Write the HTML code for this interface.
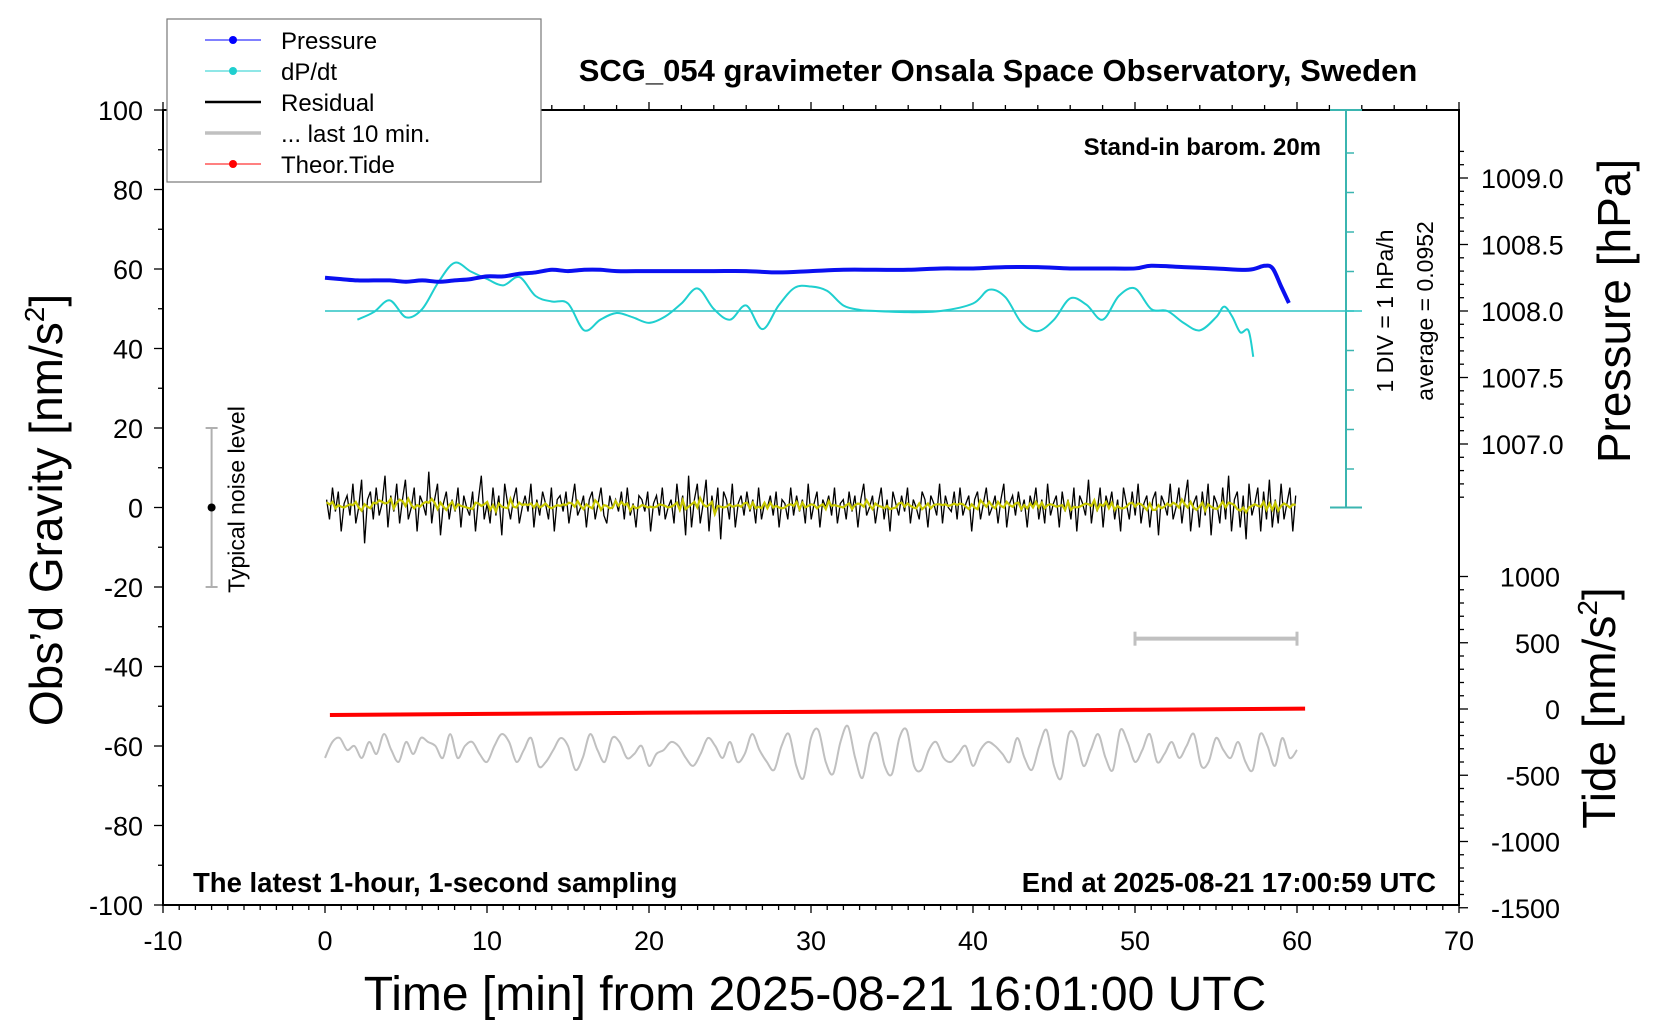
<!DOCTYPE html>
<html><head><meta charset="utf-8"><style>
html,body{margin:0;padding:0;background:#fff}
svg{display:block;font-family:"Liberation Sans",sans-serif}
</style></head><body>
<svg id="c" width="1660" height="1020" viewBox="0 0 1660 1020" xmlns="http://www.w3.org/2000/svg">
<rect width="1660" height="1020" fill="#fff"/>
<g id="axes"></g>
<g id="marks"></g>
</svg>
<script>
// ---- data ----
const xTicks = [-10,0,10,20,30,40,50,60,70];
const gTicks = [100,80,60,40,20,0,-20,-40,-60,-80,-100];
const pTicks = [1009.0,1008.5,1008.0,1007.5,1007.0];
const tideTicks = [1000,500,0,-500,-1000,-1500];
const pressureT = [0,1,2,3,4,5,6,7,8,9,10,11,12,13,14,15,16,17,18,20,22,24,26,28,30,32,34,36,38,40,42,44,46,48,50,51,53,55,57,58,58.5,59,59.5];
const pressureV = [1008.25,1008.24,1008.23,1008.23,1008.23,1008.22,1008.23,1008.22,1008.23,1008.24,1008.26,1008.26,1008.28,1008.29,1008.31,1008.30,1008.31,1008.31,1008.30,1008.30,1008.30,1008.30,1008.30,1008.29,1008.30,1008.31,1008.31,1008.31,1008.32,1008.32,1008.33,1008.33,1008.32,1008.32,1008.32,1008.34,1008.33,1008.32,1008.31,1008.34,1008.32,1008.19,1008.06];
const dpdtT = [2,3,4,5,6,7,8,9,10,11,12,13,14,15,16,17,18,19,20,21,22,23,24,25,26,27,28,29,30,31,32,33,34,36,38,40,41,42,43,44,45,46,47,48,49,50,51,52,53,54,55,55.5,56,56.5,57,57.3];
const dpdtV = [-0.22,-0.03,0.27,-0.16,0.05,0.73,1.22,1.0,0.81,0.65,0.86,0.38,0.24,0.19,-0.49,-0.22,-0.05,-0.16,-0.3,-0.14,0.19,0.57,0.05,-0.22,0.14,-0.46,0.14,0.59,0.62,0.51,0.14,0.03,0,-0.03,0,0.19,0.54,0.35,-0.3,-0.51,-0.22,0.32,0.16,-0.22,0.38,0.57,0.05,0,-0.3,-0.49,-0.16,0.11,-0.14,-0.54,-0.49,-1.16];
const residual = [2,-3,5,-1,4,-6,1,3,-2,6,-4,0,7,-9,2,4,-3,5,-2,1,8,-5,3,-1,6,-4,2,7,-3,0,5,-6,3,1,-2,9,-4,2,6,-7,1,4,-3,2,-1,5,-5,3,0,-2,4,-6,2,8,-3,1,-4,5,-2,3,-7,6,1,-3,2,5,-4,0,3,-1,6,-5,2,-2,4,1,-3,5,-6,2,3,-1,4,-4,1,6,-2,0,3,-5,2,4,-3,1,5,-2,-4,3,0,2,-1,4,-3,5,-2,1,-5,3,2,-1,4,-6,1,3,-2,5,-3,0,2,-4,6,-1,3,-7,8,-5,2,6,-4,1,7,-6,3,-2,5,-8,4,2,-3,6,-5,1,3,-2,4,-1,2,-4,5,-3,1,0,3,-2,4,-5,2,1,-3,5,-2,3,-1,2,-4,6,-3,1,4,-5,2,0,3,-2,5,-4,1,2,-3,4,-1,3,-5,2,6,-2,0,3,-4,1,5,-3,2,-6,4,1,-2,3,-1,5,-4,2,0,-3,4,2,-5,3,1,-2,6,-4,3,0,-1,4,-3,5,-2,1,3,-6,2,4,-3,1,5,-2,0,3,-4,2,6,-5,1,3,-2,4,-1,2,-5,3,0,5,-3,2,-4,6,-2,1,3,-5,4,-1,2,-3,5,-6,3,1,-2,7,-4,2,-1,5,-5,3,0,4,-3,2,-6,5,1,-3,4,-2,6,-4,1,3,-5,2,4,-7,3,1,-2,6,-3,0,5,-4,2,7,-6,1,3,-5,4,-2,6,-7,3,1,-4,5,-3,8,-6,2,4,-5,3,-8,6,-2,1,5,-6,4,-3,7,-5,2,-4,6,-3,1,5,-6,3];
const lastTen = [-1,3,4,1,2,-1,3,0,5,1,-2,3,0,4,3,2,-1,5,-1,2,3,0,-2,2,5,3,-2,1,4,-3,-2,1,4,2,-4,-1,5,1,-2,4,3,-1,0,2,-3,0,1,3,2,-1,-3,0,4,2,-1,3,-2,0,5,1,-2,-4,2,5,-3,-6,4,6,-2,-5,3,7,-1,-6,3,5,-3,-5,4,6,-3,-4,1,3,-1,-2,0,2,-3,1,3,2,0,-2,4,-1,-4,2,6,-3,-6,5,4,-3,1,5,-1,-4,6,3,-2,1,5,-2,0,3,-1,2,5,-3,-2,4,1,-1,3,-2,-4,5,2,-3,4,-1,1];
const lastTenOffset = -62;
const tideT = [0.3,10,20,30,40,50,60.5];
const tideV = [-45,-37,-29,-22,-14,-6,3];
const noiseLevel = [-20,0,20];

// ---- scales ----
const X0=163, XS=16.2;
const tx = t => X0 + (t+10)*XS;
const gy = v => 110 + (100-v)*3.975;
const py = p => 311 - (p-1008)*133;
const yy = v => 709 - v*0.1325;
const DIV = 39.5;
const dy = v => 311 - v*DIV;

const NS="http://www.w3.org/2000/svg";
function mk(parent, tag, attrs, text){
  const el=document.createElementNS(NS,tag);
  for(const k in attrs) el.setAttribute(k,attrs[k]);
  if(text!==undefined) el.textContent=text;
  document.getElementById(parent).appendChild(el);
  return el;
}
const L=tx(-10), R=tx(70), T=gy(100), B=gy(-100);

let e;
e=mk('axes','rect',{x:L,y:T,width:R-L,height:B-T,fill:'none',stroke:'#000','stroke-width':2});



for(let t=-10;t<=70;t++){
  const maj = t%10===0;
  const len = maj?8:5;
  mk('axes','line',{x1:tx(t),x2:tx(t),y1:B,y2:B+len,stroke:'#000','stroke-width':1.3});
  if(t%2===0||maj) mk('axes','line',{x1:tx(t),x2:tx(t),y1:T,y2:T-(maj?8:5),stroke:'#000','stroke-width':1.3});
}
xTicks.forEach(t=>{
  e=mk('axes','text',{x:tx(t),y:950,'font-size':27,'text-anchor':'middle'},String(t));
  
  
});
for(let v=-100;v<=100;v+=10){
  const maj=v%20===0;
  mk('axes','line',{x1:L,x2:L-(maj?9:5),y1:gy(v),y2:gy(v),stroke:'#000','stroke-width':1.3});
}
gTicks.forEach(v=>{
  e=mk('axes','text',{x:143,y:gy(v)+10,'font-size':27,'text-anchor':'end'},String(v));
  
  
});
for(let i=0;i<=29;i++){
  const p=1006.3+i*0.1;
  const y=py(p); if(y<T||y>gy(0)+2) continue;
  const maj=Math.abs(Math.round(p*2)-p*2)<1e-6;
  mk('axes','line',{x1:R,x2:R+(maj?9:5),y1:y,y2:y,stroke:'#000','stroke-width':1.3});
}
pTicks.forEach(p=>{
  e=mk('axes','text',{x:1481,y:py(p)+10,'font-size':27},p.toFixed(1));
  
  
});
for(let v=-1500;v<=1000;v+=100){
  const maj=v%500===0;
  mk('axes','line',{x1:R,x2:R+(maj?9:5),y1:yy(v),y2:yy(v),stroke:'#000','stroke-width':1.3});
}
tideTicks.forEach(v=>{
  e=mk('axes','text',{x:1560,y:yy(v)+10,'font-size':27,'text-anchor':'end'},String(v));
  
  
});

e=mk('axes','text',{x:998,y:81,'font-size':31,'font-weight':'bold','text-anchor':'middle'},'SCG_054 gravimeter Onsala Space Observatory, Sweden');
 
e=mk('axes','text',{x:1321,y:155,'font-size':24,'font-weight':'bold','text-anchor':'end'},'Stand-in barom. 20m');
 
e=mk('axes','text',{x:193,y:892,'font-size':27.5,'font-weight':'bold'},'The latest 1-hour, 1-second sampling');
 
e=mk('axes','text',{x:1436,y:892,'font-size':27.5,'font-weight':'bold','text-anchor':'end'},'End at 2025-08-21 17:00:59 UTC');
 
e=mk('axes','text',{x:815,y:1010,'font-size':48,'text-anchor':'middle'},'Time [min] from 2025-08-21 16:01:00 UTC');
 
e=mk('axes','text',{x:0,y:0,'font-size':46,'text-anchor':'middle',transform:'translate(62,510) rotate(-90)'});
e.innerHTML='Obs’d Gravity [nm/s<tspan font-size="28" dy="-18">2</tspan><tspan dy="18">]</tspan>';
 
e=mk('axes','text',{x:0,y:0,'font-size':46,'text-anchor':'middle',transform:'translate(1630,311) rotate(-90)'},'Pressure [hPa]');
 
e=mk('axes','text',{x:0,y:0,'font-size':46,'text-anchor':'middle',transform:'translate(1615,708) rotate(-90)'});
e.innerHTML='Tide [nm/s<tspan font-size="28" dy="-18">2</tspan><tspan dy="18">]</tspan>';
 
e=mk('axes','text',{x:0,y:0,'font-size':23,'text-anchor':'middle',transform:'translate(1393,311) rotate(-90)'},'1 DIV = 1 hPa/h');
 
e=mk('axes','text',{x:0,y:0,'font-size':23,'text-anchor':'middle',transform:'translate(1433,311) rotate(-90)'},'average = 0.0952');
 

const BX=1346;
e=mk('marks','line',{x1:BX,x2:BX,y1:T,y2:gy(0),stroke:'#3bb5b0','stroke-width':2});
 
mk('marks','line',{x1:BX-16,x2:BX+16,y1:T,y2:T,stroke:'#3bb5b0','stroke-width':2});
mk('marks','line',{x1:BX-16,x2:BX+16,y1:gy(0),y2:gy(0),stroke:'#3bb5b0','stroke-width':2});
for(let k=-5;k<=5;k++){const y=dy(k); if(y>T+5&&y<gy(0)-5) mk('marks','line',{x1:BX,x2:BX+8,y1:y,y2:y,stroke:'#3bb5b0','stroke-width':1.5});}
e=mk('marks','line',{x1:tx(0),x2:BX+16,y1:dy(0),y2:dy(0),stroke:'#2ac4c4','stroke-width':1.5});
 

function pathFrom(xs,ys,fx,fy){return xs.map((t,i)=>(i?'L':'M')+fx(t).toFixed(1)+','+fy(ys[i]).toFixed(1)).join('');}
function smoothPath(xs,ys,fx,fy){
  const P=xs.map((t,i)=>[fx(t),fy(ys[i])]);
  let d='M'+P[0][0]+','+P[0][1];
  for(let i=0;i<P.length-1;i++){
    const p0=P[Math.max(0,i-1)],p1=P[i],p2=P[i+1],p3=P[Math.min(P.length-1,i+2)];
    d+='C'+(p1[0]+(p2[0]-p0[0])/6)+','+(p1[1]+(p2[1]-p0[1])/6)+' '+(p2[0]-(p3[0]-p1[0])/6)+','+(p2[1]-(p3[1]-p1[1])/6)+' '+p2[0]+','+p2[1];
  }
  return d;
}
e=mk('marks','path',{d:smoothPath(dpdtT,dpdtV,tx,dy),fill:'none',stroke:'#1fcfcf','stroke-width':2});
 
e=mk('marks','path',{d:smoothPath(pressureT,pressureV,tx,py),fill:'none',stroke:'#0a10f0','stroke-width':4,'stroke-linejoin':'round'});
 

const resT = residual.map((v,i)=>0.1+i*60/residual.length);
e=mk('marks','path',{d:pathFrom(resT,residual,tx,gy),fill:'none',stroke:'#000','stroke-width':1.3});
 
const sm = residual.map((v,i)=>{let s=0,n=0;for(let j=i-2;j<=i+2;j++){if(j>=0&&j<residual.length){s+=residual[j];n++;}}return s/n;});
e=mk('marks','path',{d:pathFrom(resT,sm,tx,gy),fill:'none',stroke:'#c8c800','stroke-width':2.2});
 

const ltT = lastTen.map((v,i)=>i*60/(lastTen.length-1));
e=mk('marks','path',{d:smoothPath(ltT,lastTen.map(v=>v+lastTenOffset),tx,gy),fill:'none',stroke:'#c0c0c0','stroke-width':2});
 
e=mk('marks','line',{x1:tx(50),x2:tx(60),y1:gy(-33),y2:gy(-33),stroke:'#c0c0c0','stroke-width':4});
 
mk('marks','line',{x1:tx(50),x2:tx(50),y1:gy(-33)-7,y2:gy(-33)+7,stroke:'#c0c0c0','stroke-width':3});
mk('marks','line',{x1:tx(60),x2:tx(60),y1:gy(-33)-7,y2:gy(-33)+7,stroke:'#c0c0c0','stroke-width':3});

e=mk('marks','path',{d:pathFrom(tideT,tideV,tx,yy),fill:'none',stroke:'#ff0000','stroke-width':4});
 

e=mk('marks','line',{x1:tx(-7),x2:tx(-7),y1:gy(noiseLevel[0]),y2:gy(noiseLevel[2]),stroke:'#b0b0b0','stroke-width':2});
 
mk('marks','line',{x1:tx(-7)-6,x2:tx(-7)+6,y1:gy(noiseLevel[0]),y2:gy(noiseLevel[0]),stroke:'#b0b0b0','stroke-width':2});
mk('marks','line',{x1:tx(-7)-6,x2:tx(-7)+6,y1:gy(noiseLevel[2]),y2:gy(noiseLevel[2]),stroke:'#b0b0b0','stroke-width':2});
mk('marks','circle',{cx:tx(-7),cy:gy(noiseLevel[1]),r:4,fill:'#000'});
e=mk('marks','text',{x:0,y:0,'font-size':23,'text-anchor':'middle',transform:`translate(${tx(-7)+33},${gy(0)-8}) rotate(-90)`},'Typical noise level');
 

e=mk('marks','rect',{x:167,y:19,width:374,height:163,fill:'#fff',stroke:'#777','stroke-width':1.2});
 
const leg=[['Pressure','#0000ff',1,true],['dP/dt','#1fcfcf',1,true],['Residual','#000',2.5,false],['... last 10 min.','#c0c0c0',3.5,false],['Theor.Tide','#ff0000',1,true]];
leg.forEach((l,i)=>{
  const y=40+i*31;
  mk('marks','line',{x1:205,x2:261,y1:y,y2:y,stroke:l[1],'stroke-width':l[2]});
  if(l[3]) mk('marks','circle',{cx:233,cy:y,r:4,fill:l[1]});
  e=mk('marks','text',{x:281,y:y+9,'font-size':24},l[0]);
   
});
</script>
</body></html>
